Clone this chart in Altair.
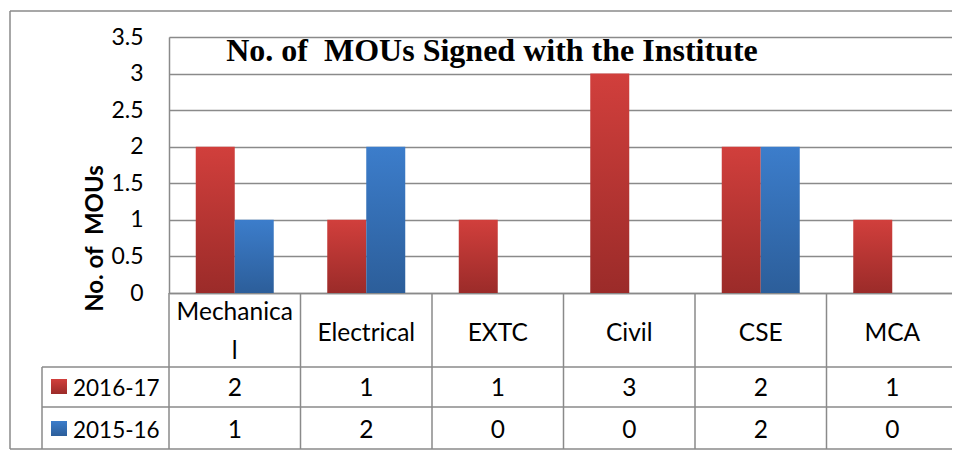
import altair as alt
import pandas as pd

# ---- data ----
categories = ["Mechanical", "Electrical", "EXTC", "Civil", "CSE", "MCA"]
header_line1 = ["Mechanica", "Electrical", "EXTC", "Civil", "CSE", "MCA"]
header_line2 = ["l", "", "", "", "", ""]
series_names = ["2016-17", "2015-16"]
values_2016_17 = [2, 1, 1, 3, 2, 1]
values_2015_16 = [1, 2, 0, 0, 2, 0]
y_ticks = [0, 0.5, 1, 1.5, 2, 2.5, 3, 3.5]
title_text = "No. of\u00a0 MOUs Signed with the Institute"
y_title = "No. of\u00a0 MOUs"

rows = []
for s, vals in zip(series_names, [values_2016_17, values_2015_16]):
    for c, v in zip(categories, vals):
        rows.append({"dept": c, "series": s, "value": v})
df = pd.DataFrame(rows)

hdr = pd.DataFrame({"dept": categories, "l1": header_line1, "l2": header_line2})
hdr["lines"] = [2 if b else 1 for b in header_line2]

# ---- styles ----
W_VIEW, W, H = 783, 789, 256
GRID = "#8A8A8A"
LW = 1.5
FONT = "Lato"
FS = 24.5
colors = {
    "2016-17": ("#D13F3C", "#9B2B29"),
    "2015-16": ("#3C7DCB", "#2C5E9A"),
}
row_y = {"2016-17": 351.5, "2015-16": 393.5}   # row centres below the plot (px)
sq_y = {"2016-17": (342, 357), "2015-16": (384, 399)}

xscale = alt.Scale(domain=categories, paddingInner=0, paddingOuter=0, range=[0, W])
xoff_scale = alt.Scale(domain=series_names, paddingInner=0, paddingOuter=0.686)
yscale = alt.Scale(domain=[0, 3.5], nice=False, zero=True)


def grad(top, bottom):
    return alt.Gradient(
        gradient="linear",
        stops=[alt.GradientStop(color=top, offset=0), alt.GradientStop(color=bottom, offset=1)],
        x1=0, x2=0, y1=0, y2=1,
    )


x_enc = alt.X(
    "dept:N",
    scale=xscale,
    sort=categories,
    axis=alt.Axis(
        title=None,
        grid=False,
        domainColor=GRID,
        domainWidth=LW,
        ticks=False,
        labels=False,
    ),
)

y_enc = alt.Y(
    "value:Q",
    scale=yscale,
    axis=alt.Axis(
        values=y_ticks,
        format="~g",
        grid=True,
        gridColor=GRID,
        gridWidth=LW,
        domainColor=GRID,
        domainWidth=LW,
        ticks=False,
        labelFont=FONT,
        labelFontSize=23,
        labelColor="black",
        labelPadding=26,
        labelFlush=False,
        title=y_title,
        titleFont=FONT,
        titleFontSize=24,
        titleFontWeight="bold",
        titleColor="black",
        titleAngle=270,
        titleBaseline="middle",
        titleAlign="center",
        titleX=-74,
        titleY=201,
    ),
)

layers = []
for s in series_names:
    top, bottom = colors[s]
    layers.append(
        alt.Chart(df)
        .transform_filter(alt.datum.series == s)
        .mark_bar(color=grad(top, bottom))
        .encode(
            x=x_enc,
            xOffset=alt.XOffset("series:N", scale=xoff_scale, sort=series_names),
            y=y_enc,
        )
    )

xs = alt.X("dept:N", scale=xscale, sort=categories)

# header row (category names)
layers.append(
    alt.Chart(hdr).transform_filter(alt.datum.lines == 1)
    .mark_text(font=FONT, fontSize=FS, color="black", baseline="middle")
    .encode(x=xs, y=alt.value(296.5), text="l1:N")
)
layers.append(
    alt.Chart(hdr).transform_filter(alt.datum.lines == 2)
    .mark_text(font=FONT, fontSize=FS, color="black", baseline="middle")
    .encode(x=xs, y=alt.value(275.5), text="l1:N")
)
layers.append(
    alt.Chart(hdr).transform_filter(alt.datum.lines == 2)
    .mark_text(font=FONT, fontSize=FS, color="black", baseline="middle")
    .encode(x=xs, y=alt.value(314.5), text="l2:N")
)

# table values
for s in series_names:
    layers.append(
        alt.Chart(df)
        .transform_filter(alt.datum.series == s)
        .mark_text(font=FONT, fontSize=FS, color="black", baseline="middle")
        .encode(x=xs, y=alt.value(row_y[s]), text="value:Q")
    )

# vertical table lines at category boundaries
layers.append(
    alt.Chart(hdr).mark_rule(color=GRID, strokeWidth=LW)
    .encode(x=alt.X("dept:N", scale=xscale, sort=categories, bandPosition=0), y=alt.value(256), y2=alt.value(412))
)
layers.append(
    alt.Chart(hdr).transform_filter(alt.datum.dept == categories[-1])
    .mark_rule(color=GRID, strokeWidth=LW)
    .encode(x=alt.X("dept:N", scale=xscale, sort=categories, bandPosition=1), y=alt.value(256), y2=alt.value(412))
)

# legend column: swatches + labels
for s in series_names:
    top, bottom = colors[s]
    ld = pd.DataFrame({"series": [s]})
    layers.append(
        alt.Chart(ld)
        .mark_rect(color=grad(top, bottom))
        .encode(x=alt.value(-118), x2=alt.value(-102), y=alt.value(sq_y[s][0]), y2=alt.value(sq_y[s][1]))
    )
    layers.append(
        alt.Chart(ld)
        .mark_text(font=FONT, fontSize=22.5, color="black", align="left", baseline="middle")
        .encode(x=alt.value(-96), y=alt.value(row_y[s]), text="series:N")
    )

# table frame lines
hl = pd.DataFrame({"k": [0]})
for yy, x0 in [(330, -127), (370, -127), (412, -159)]:
    layers.append(
        alt.Chart(hl).mark_rule(color=GRID, strokeWidth=LW)
        .encode(x=alt.value(x0), x2=alt.value(W), y=alt.value(yy))
    )
layers.append(
    alt.Chart(hl).mark_rule(color=GRID, strokeWidth=LW)
    .encode(x=alt.value(-127), y=alt.value(330), y2=alt.value(412))
)
# outer chart border (top + left)
layers.append(
    alt.Chart(hl).mark_rule(color=GRID, strokeWidth=LW)
    .encode(x=alt.value(-159), x2=alt.value(W), y=alt.value(-26))
)
layers.append(
    alt.Chart(hl).mark_rule(color=GRID, strokeWidth=LW)
    .encode(x=alt.value(-159), y=alt.value(-26), y2=alt.value(412))
)

# title inside plot
td = pd.DataFrame({"t": [title_text]})
layers.append(
    alt.Chart(td)
    .mark_text(font="Liberation Serif", fontSize=32, fontWeight="bold", color="black", baseline="middle")
    .encode(x=alt.value(323), y=alt.value(14), text="t:N")
)

chart = (
    alt.layer(*layers)
    .properties(
        width=W_VIEW,
        height=H,
        autosize=alt.AutoSizeParams(type="none"),
        padding={"left": 161, "top": 29, "right": 0, "bottom": 158},
    )
    .configure_view(stroke=None)
    .configure(background="white")
)

chart.save("out.html", embed_options={"renderer": "svg", "actions": False})
